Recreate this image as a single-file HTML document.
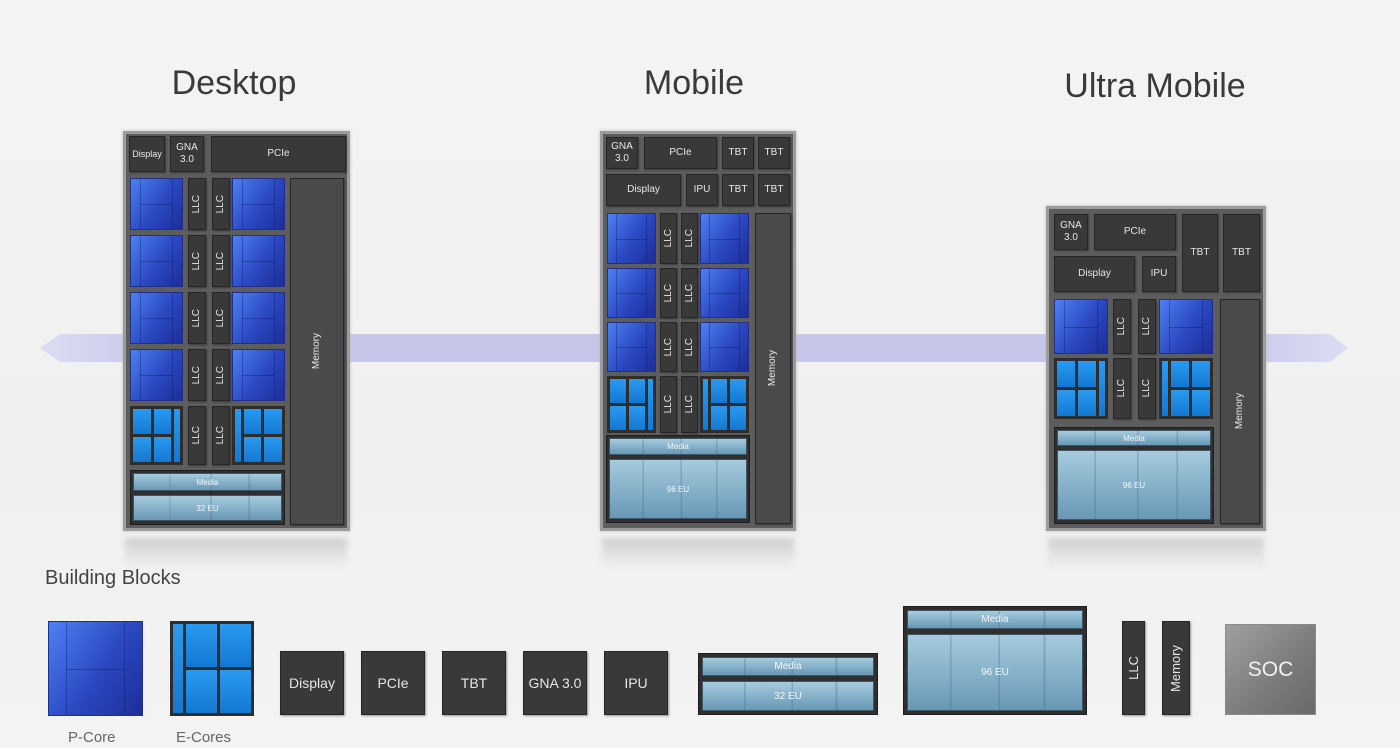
<!DOCTYPE html>
<html><head><meta charset="utf-8"><style>
body{margin:0;width:1400px;height:748px;overflow:hidden;background:linear-gradient(#f4f4f4,#f0f0f0 60%,#f3f3f3);font-family:"Liberation Sans",sans-serif;position:relative}
.a{position:absolute;box-sizing:border-box}
.chip{background:#5d5d5d;border:3px solid #9c9c9c;box-shadow:0 0 3px #bbb}
.b{position:absolute;box-sizing:border-box;background:#393939;border:1px solid #262626;color:#e6e6e6;font-size:10px;display:flex;align-items:center;justify-content:center;text-align:center;line-height:12px;box-shadow:1px 1px 2px rgba(0,0,0,.4)}
.v span{writing-mode:vertical-rl;transform:rotate(180deg);font-size:10px}
.mem{background:#4a4a4a}
.p{position:absolute;box-sizing:border-box;background:linear-gradient(125deg,#4e80f2,#2a48c0 55%,#1c2e98);border:1px solid #20308a}
.p:before{content:"";position:absolute;left:18%;right:18%;top:0;bottom:0;border-left:1px solid rgba(10,20,90,.35);border-right:1px solid rgba(10,20,90,.35)}
.p:after{content:"";position:absolute;left:18%;right:18%;top:50%;border-top:1px solid rgba(10,20,90,.35)}
.e{position:absolute;box-sizing:border-box;background:#2d2d2d;padding:3px;display:grid;grid-template-columns:1fr 3fr 3fr;grid-template-rows:1fr 1fr;gap:3px}
.e.r{grid-template-columns:3fr 3fr 1fr}
.e i{background:linear-gradient(#2a9af0,#1478d2)}
.e .s{grid-row:1/3}
.g{position:absolute;box-sizing:border-box;background:linear-gradient(#a6cbdd,#7aa8c2 70%,#6a98b4);border:1px solid #3b5666;color:#f2f6f8;font-size:8px;display:flex;align-items:center;justify-content:center;background-image:linear-gradient(90deg,transparent 24%,rgba(60,100,130,.3) 24%,rgba(60,100,130,.3) 25%,transparent 25%,transparent 52%,rgba(60,100,130,.3) 52%,rgba(60,100,130,.3) 53%,transparent 53%,transparent 78%,rgba(60,100,130,.3) 78%,rgba(60,100,130,.3) 79%,transparent 79%),linear-gradient(#a6cbdd,#7aa8c2 70%,#6a98b4)}
.gw{position:absolute;box-sizing:border-box;background:#2f2f2f;border:1px solid #1e1e1e}
.t{position:absolute;font-size:34px;color:#3a3a3a;transform:translateX(-50%);white-space:nowrap}
.sh{position:absolute;height:30px;background:linear-gradient(#cfcfcf,rgba(240,240,240,0));filter:blur(3px)}
.bb{font-size:14px}
</style></head><body>

<!-- arrow band -->
<svg class="a" style="left:0;top:0" width="1400" height="748">
<defs><linearGradient id="ag" x1="0" x2="1"><stop offset="0" stop-color="#dcdcf2"/><stop offset=".1" stop-color="#c6c6ea"/><stop offset=".9" stop-color="#c6c6ea"/><stop offset="1" stop-color="#dcdcf2"/></linearGradient></defs>
<polygon points="40,348 60,334 1330,334 1348,348 1330,362 60,362" fill="url(#ag)"/>
</svg>

<div class="t" style="left:234px;top:64px">Desktop</div>
<div class="t" style="left:694px;top:64px">Mobile</div>
<div class="t" style="left:1155px;top:67px">Ultra Mobile</div>

<div class="sh" style="left:125px;width:222px;top:538px"></div>
<div class="sh" style="left:602px;width:192px;top:538px"></div>
<div class="sh" style="left:1048px;width:216px;top:538px"></div>

<!-- DESKTOP -->
<div class="a chip" style="left:123px;top:131px;width:227px;height:400px"></div>
<div class="b" style="left:129px;top:136px;width:36px;height:36px;font-size:9px">Display</div>
<div class="b" style="left:170px;top:136px;width:34px;height:36px">GNA<br>3.0</div>
<div class="b" style="left:211px;top:136px;width:135px;height:36px">PCIe</div>
<div class="p" style="left:130px;top:178px;width:53px;height:52px"></div>
<div class="p" style="left:232px;top:178px;width:53px;height:52px"></div>
<div class="p" style="left:130px;top:235px;width:53px;height:52px"></div>
<div class="p" style="left:232px;top:235px;width:53px;height:52px"></div>
<div class="p" style="left:130px;top:292px;width:53px;height:52px"></div>
<div class="p" style="left:232px;top:292px;width:53px;height:52px"></div>
<div class="p" style="left:130px;top:349px;width:53px;height:52px"></div>
<div class="p" style="left:232px;top:349px;width:53px;height:52px"></div>
<div class="e r" style="left:130px;top:406px;width:53px;height:59px"><i></i><i></i><i class="s" style="grid-column:3;grid-row:1/3"></i><i></i><i></i></div>
<div class="e" style="left:232px;top:406px;width:53px;height:59px"><i class="s"></i><i></i><i></i><i></i><i></i></div>
<div class="b v" style="left:188px;top:178px;width:18px;height:52px"><span>LLC</span></div>
<div class="b v" style="left:212px;top:178px;width:18px;height:52px"><span>LLC</span></div>
<div class="b v" style="left:188px;top:235px;width:18px;height:52px"><span>LLC</span></div>
<div class="b v" style="left:212px;top:235px;width:18px;height:52px"><span>LLC</span></div>
<div class="b v" style="left:188px;top:292px;width:18px;height:52px"><span>LLC</span></div>
<div class="b v" style="left:212px;top:292px;width:18px;height:52px"><span>LLC</span></div>
<div class="b v" style="left:188px;top:349px;width:18px;height:52px"><span>LLC</span></div>
<div class="b v" style="left:212px;top:349px;width:18px;height:52px"><span>LLC</span></div>
<div class="b v" style="left:188px;top:406px;width:18px;height:59px"><span>LLC</span></div>
<div class="b v" style="left:212px;top:406px;width:18px;height:59px"><span>LLC</span></div>
<div class="b v mem" style="left:290px;top:178px;width:54px;height:347px"><span>Memory</span></div>
<div class="gw" style="left:130px;top:470px;width:155px;height:55px"></div>
<div class="g" style="left:133px;top:473px;width:149px;height:18px">Media</div>
<div class="g" style="left:133px;top:495px;width:149px;height:26px">32 EU</div>

<!-- MOBILE -->
<div class="a chip" style="left:600px;top:131px;width:196px;height:400px"></div>
<div class="b" style="left:606px;top:137px;width:32px;height:32px">GNA<br>3.0</div>
<div class="b" style="left:644px;top:137px;width:73px;height:32px">PCIe</div>
<div class="b" style="left:722px;top:137px;width:32px;height:32px">TBT</div>
<div class="b" style="left:758px;top:137px;width:32px;height:32px">TBT</div>
<div class="b" style="left:606px;top:174px;width:75px;height:32px">Display</div>
<div class="b" style="left:686px;top:174px;width:32px;height:32px">IPU</div>
<div class="b" style="left:722px;top:174px;width:32px;height:32px">TBT</div>
<div class="b" style="left:758px;top:174px;width:32px;height:32px">TBT</div>
<div class="p" style="left:607px;top:213px;width:49px;height:51px"></div>
<div class="p" style="left:700px;top:213px;width:49px;height:51px"></div>
<div class="p" style="left:607px;top:268px;width:49px;height:50px"></div>
<div class="p" style="left:700px;top:268px;width:49px;height:50px"></div>
<div class="p" style="left:607px;top:322px;width:49px;height:50px"></div>
<div class="p" style="left:700px;top:322px;width:49px;height:50px"></div>
<div class="e r" style="left:607px;top:376px;width:49px;height:57px"><i></i><i></i><i class="s" style="grid-column:3;grid-row:1/3"></i><i></i><i></i></div>
<div class="e" style="left:700px;top:376px;width:49px;height:57px"><i class="s"></i><i></i><i></i><i></i><i></i></div>
<div class="b v" style="left:660px;top:213px;width:17px;height:51px"><span>LLC</span></div>
<div class="b v" style="left:681px;top:213px;width:17px;height:51px"><span>LLC</span></div>
<div class="b v" style="left:660px;top:268px;width:17px;height:50px"><span>LLC</span></div>
<div class="b v" style="left:681px;top:268px;width:17px;height:50px"><span>LLC</span></div>
<div class="b v" style="left:660px;top:322px;width:17px;height:50px"><span>LLC</span></div>
<div class="b v" style="left:681px;top:322px;width:17px;height:50px"><span>LLC</span></div>
<div class="b v" style="left:660px;top:376px;width:17px;height:57px"><span>LLC</span></div>
<div class="b v" style="left:681px;top:376px;width:17px;height:57px"><span>LLC</span></div>
<div class="b v mem" style="left:755px;top:213px;width:36px;height:311px"><span>Memory</span></div>
<div class="gw" style="left:606px;top:435px;width:144px;height:88px"></div>
<div class="g" style="left:609px;top:438px;width:138px;height:17px">Media</div>
<div class="g" style="left:609px;top:459px;width:138px;height:60px">96 EU</div>

<!-- ULTRA MOBILE -->
<div class="a chip" style="left:1046px;top:206px;width:220px;height:325px"></div>
<div class="b" style="left:1054px;top:214px;width:34px;height:36px">GNA<br>3.0</div>
<div class="b" style="left:1094px;top:214px;width:82px;height:36px">PCIe</div>
<div class="b" style="left:1182px;top:214px;width:36px;height:78px">TBT</div>
<div class="b" style="left:1223px;top:214px;width:37px;height:78px">TBT</div>
<div class="b" style="left:1054px;top:256px;width:81px;height:36px">Display</div>
<div class="b" style="left:1142px;top:256px;width:34px;height:36px">IPU</div>
<div class="p" style="left:1054px;top:299px;width:54px;height:55px"></div>
<div class="p" style="left:1159px;top:299px;width:54px;height:55px"></div>
<div class="e r" style="left:1054px;top:358px;width:54px;height:61px"><i></i><i></i><i class="s" style="grid-column:3;grid-row:1/3"></i><i></i><i></i></div>
<div class="e" style="left:1159px;top:358px;width:54px;height:61px"><i class="s"></i><i></i><i></i><i></i><i></i></div>
<div class="b v" style="left:1113px;top:299px;width:18px;height:55px"><span>LLC</span></div>
<div class="b v" style="left:1138px;top:299px;width:18px;height:55px"><span>LLC</span></div>
<div class="b v" style="left:1113px;top:358px;width:18px;height:61px"><span>LLC</span></div>
<div class="b v" style="left:1138px;top:358px;width:18px;height:61px"><span>LLC</span></div>
<div class="b v mem" style="left:1220px;top:299px;width:40px;height:225px"><span>Memory</span></div>
<div class="gw" style="left:1054px;top:427px;width:160px;height:97px"></div>
<div class="g" style="left:1057px;top:430px;width:154px;height:16px">Media</div>
<div class="g" style="left:1057px;top:450px;width:154px;height:70px">96 EU</div>

<!-- BUILDING BLOCKS -->
<div class="a" style="left:45px;top:567px;font-size:20px;color:#444">Building Blocks</div>
<div class="p" style="left:48px;top:621px;width:95px;height:95px"></div>
<div class="e" style="left:170px;top:621px;width:84px;height:95px"><i class="s"></i><i></i><i></i><i></i><i></i></div>
<div class="a" style="left:68px;top:729px;font-size:15px;color:#666">P-Core</div>
<div class="a" style="left:176px;top:729px;font-size:15px;color:#666">E-Cores</div>
<div class="b bb" style="left:280px;top:651px;width:64px;height:64px">Display</div>
<div class="b bb" style="left:361px;top:651px;width:64px;height:64px">PCIe</div>
<div class="b bb" style="left:442px;top:651px;width:64px;height:64px">TBT</div>
<div class="b bb" style="left:523px;top:651px;width:64px;height:64px">GNA 3.0</div>
<div class="b bb" style="left:604px;top:651px;width:64px;height:64px">IPU</div>
<div class="gw" style="left:698px;top:653px;width:180px;height:62px"></div>
<div class="g" style="left:702px;top:657px;width:172px;height:19px;font-size:10px">Media</div>
<div class="g" style="left:702px;top:681px;width:172px;height:30px;font-size:10px">32 EU</div>
<div class="gw" style="left:903px;top:606px;width:184px;height:109px"></div>
<div class="g" style="left:907px;top:610px;width:176px;height:19px;font-size:10px">Media</div>
<div class="g" style="left:907px;top:634px;width:176px;height:77px;font-size:10px">96 EU</div>
<div class="b v" style="left:1122px;top:621px;width:23px;height:94px"><span style="font-size:13px">LLC</span></div>
<div class="b v" style="left:1162px;top:621px;width:28px;height:94px"><span style="font-size:13px">Memory</span></div>
<div class="a" style="left:1225px;top:624px;width:91px;height:91px;background:linear-gradient(135deg,#a0a0a0,#7a7a7a 60%,#6a6a6a);border:1px solid #8a8a8a;color:#f2f2f2;font-size:21px;display:flex;align-items:center;justify-content:center">SOC</div>
</body></html>
